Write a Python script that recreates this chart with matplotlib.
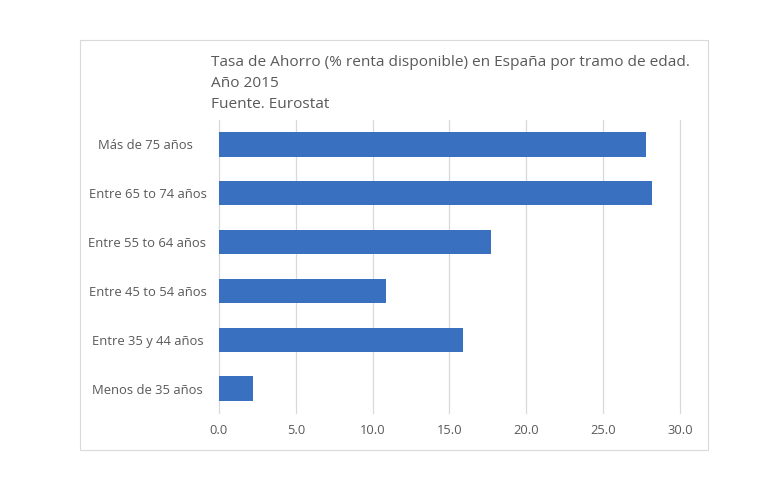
import matplotlib
matplotlib.use("Agg")
from matplotlib import pyplot as plt
from matplotlib.patches import Rectangle

# datos
grupos = ["Menos de 35 años", "Entre 35 y 44 años", "Entre 45 to 54 años",
          "Entre 55 to 64 años", "Entre 65 to 74 años", "Más de 75 años "]
tasa = [2.2, 15.9, 10.9, 17.7, 28.2, 27.8]
xticks = [0, 5, 10, 15, 20, 25, 30]

plt.rcParams['font.family'] = ['Open Sans', 'DejaVu Sans']
gris = '#595959'

fig = plt.figure(figsize=(7.73, 4.87), dpi=100)
fig.patch.set_facecolor('white')

# marco del gráfico
fig.patches.append(Rectangle((0.1035, 0.076), 0.8124, 0.842, transform=fig.transFigure,
                             fill=False, edgecolor='#D9D9D9', linewidth=0.8))

ax = fig.add_axes([0.2833, 0.152, 0.5964, 0.6016])
ax.barh(range(len(grupos)), tasa, height=0.5, color='#3A70C0', zorder=3)

ax.set_xlim(0, 30)
ax.set_ylim(-0.5, len(grupos) - 0.5)
ax.set_xticks(xticks)
ax.set_xticklabels([f"{v:.1f}" for v in xticks], color=gris, fontsize=9.3)
ax.set_yticks(range(len(grupos)))
ax.set_yticklabels(grupos, color=gris, fontsize=9.4)
for lbl in ax.get_yticklabels():
    lbl.set_horizontalalignment('center')

ax.tick_params(axis='y', length=0, pad=51.5)
ax.tick_params(axis='x', length=0, pad=8)
ax.grid(axis='x', color='#D9D9D9', linewidth=0.9, zorder=0)
for gl in ax.get_xgridlines():
    gl.set_clip_on(False)
for s in ax.spines.values():
    s.set_visible(False)

fig.text(0.273, 0.888, "Tasa de Ahorro (% renta disponible) en España por tramo de edad.\nAño 2015\nFuente. Eurostat",
         ha='left', va='top', fontsize=11.1, color=gris, linespacing=1.58)

plt.savefig('out.png', dpi=100)
